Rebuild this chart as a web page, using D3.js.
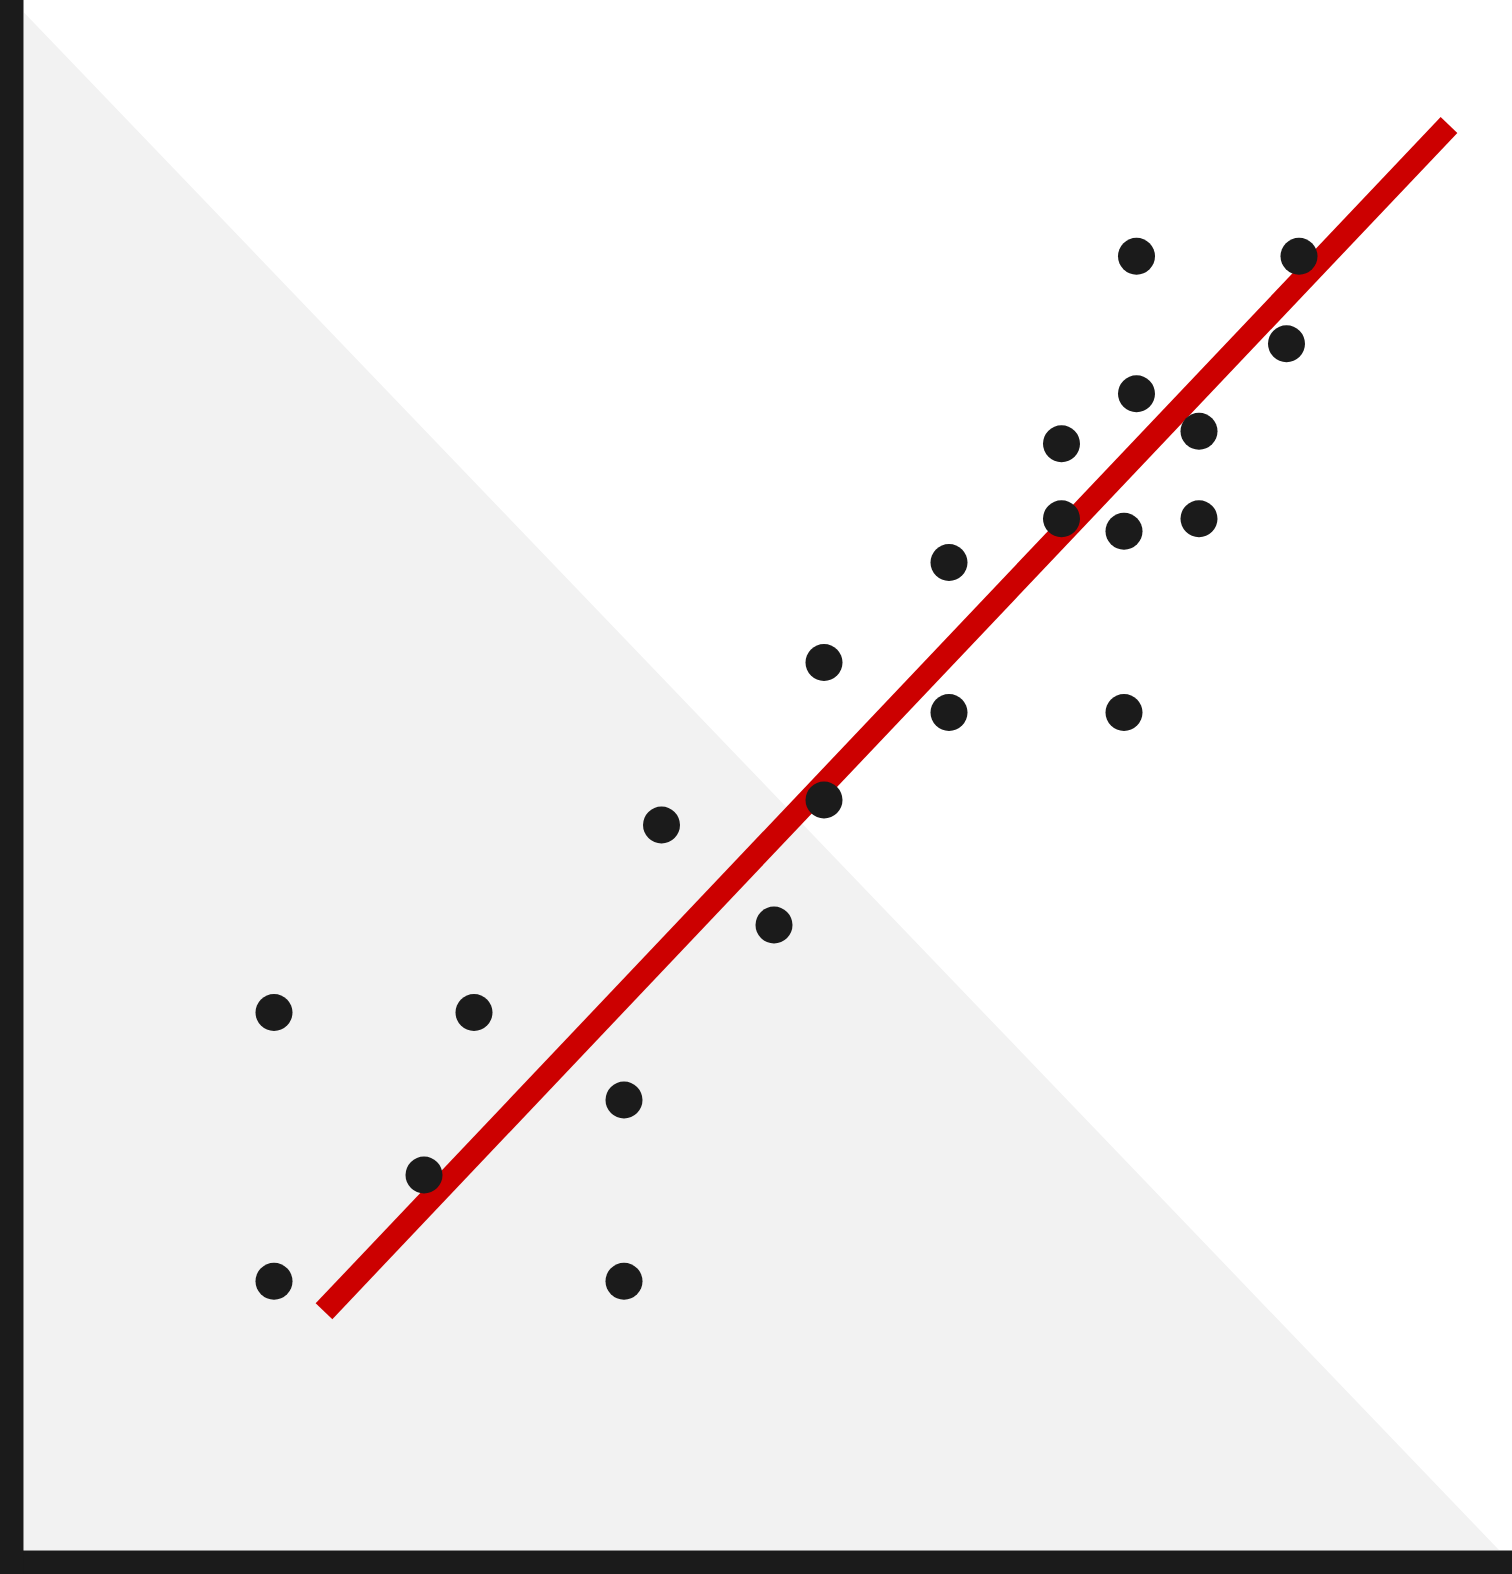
<!DOCTYPE html>
<html>
<head>
<meta charset="utf-8">
<script src="https://cdn.jsdelivr.net/npm/d3@7"></script>
<style>
  html, body { margin: 0; padding: 0; background: #ffffff; }
  svg { display: block; }
</style>
</head>
<body>
<script>
// ---- data ----
const pointX = [20, 20, 36, 32, 48, 48, 51, 60, 64, 64, 74, 74, 83, 83, 88, 88, 89, 89, 94, 94, 101, 102];
const pointY = [86, 43, 86, 60, 72, 43, 116, 100, 142, 120, 158, 134, 177, 165, 163, 134, 207, 185, 179, 165, 193, 207];
const fitX = [24, 114];
const fitY = [38.2, 228];
const shadeX = [0, 0, 118];
const shadeY = [0, 246, 0];
const xDomain = [0, 119];
const yDomain = [0, 248];

// ---- layout ----
const W = 1512, H = 1574;
const svg = d3.select("body").append("svg").attr("width", W).attr("height", H);

const x = d3.scaleLinear().domain(xDomain).range([24, 1511.5]);
const y = d3.scaleLinear().domain(yDomain).range([1550, 0]);

// shaded triangle
const shade = shadeX.map((v, i) => [x(v), y(shadeY[i])]);
svg.append("path")
  .attr("d", d3.line()(shade) + "Z")
  .attr("fill", "#f2f2f2");

// fit line
const fit = fitX.map((v, i) => [x(v), y(fitY[i])]);
svg.append("path")
  .attr("d", d3.line()(fit))
  .attr("stroke", "#cc0000")
  .attr("stroke-width", 23)
  .attr("stroke-linecap", "butt")
  .attr("fill", "none");

// points
svg.append("g").selectAll("circle")
  .data(pointX.map((v, i) => ({ x: v, y: pointY[i] })))
  .join("circle")
  .attr("cx", d => x(d.x))
  .attr("cy", d => y(d.y))
  .attr("r", 18.5)
  .attr("fill", "#1b1b1b");

// axes (no ticks), thick dark lines
const axisColor = "#1b1b1b";
const gx = svg.append("g").attr("transform", `translate(0,${1562.25})`)
  .call(d3.axisBottom(x).ticks(0).tickSize(0).tickSizeOuter(0));
gx.select(".domain").attr("stroke", axisColor).attr("stroke-width", 23.5)
  .attr("d", `M0,0H${W}`);
const gy = svg.append("g").attr("transform", `translate(${11.75},0)`)
  .call(d3.axisLeft(y).ticks(0).tickSize(0).tickSizeOuter(0));
gy.select(".domain").attr("stroke", axisColor).attr("stroke-width", 23.5)
  .attr("d", `M0,0V${H}`);
svg.selectAll(".tick").remove();
</script>
</body>
</html>
